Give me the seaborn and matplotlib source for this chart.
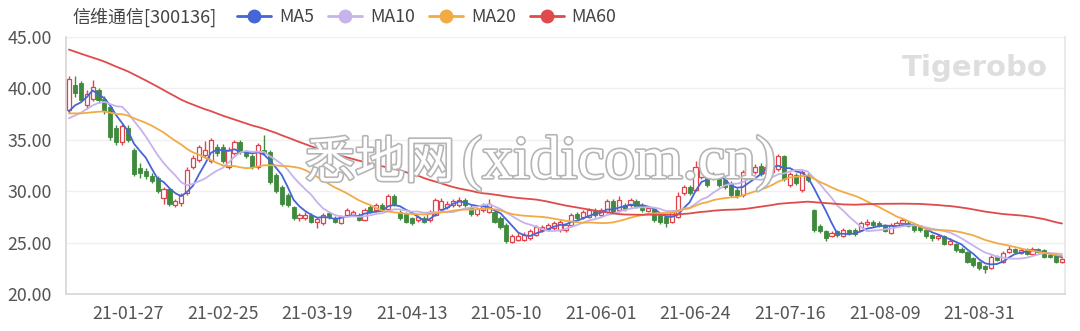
import numpy as np
import pandas as pd
import matplotlib
matplotlib.use("Agg")
import matplotlib.pyplot as plt
import matplotlib.patheffects as pe
from matplotlib.lines import Line2D
import seaborn as sns

# ---------------- data ----------------
title = "信维通信[300136]"
ma_names = ["MA5", "MA10", "MA20", "MA60"]
ma_windows = [5, 10, 20, 60]

# closes of the 59 sessions before the visible window (needed for the moving averages)
warmup_close = [51.5, 51.0, 50.8, 51.2, 50.5, 49.8, 50.2, 49.6, 50.0, 49.4, 49.0, 49.5, 48.8, 49.2, 48.6,
                48.9, 48.2, 47.8, 48.4, 47.5, 47.0, 47.6, 46.8, 46.2, 46.9, 46.0, 45.6, 46.3, 45.2, 44.8,
                44.1, 43.5, 43.9, 42.8, 42.2, 42.6, 41.5, 40.8, 41.2, 40.3,
                39.6, 39.0, 38.4, 38.8, 37.9, 37.4, 37.8, 37.2, 36.8, 37.6,
                36.9, 36.2, 36.0, 36.5, 36.4, 36.8, 37.4, 37.0, 36.8]

open_ = [37.9, 40.3, 40.5, 38.4, 39.0, 39.8, 39.0, 38.2, 36.1, 34.8,
         36.1, 34.0, 32.3, 32.0, 31.5, 31.3, 29.3, 30.2, 28.7, 28.9,
         29.8, 32.4, 33.0, 33.5, 32.9, 34.3, 34.3, 32.4, 33.7, 34.8,
         33.8, 33.4, 32.4, 34.0, 33.8, 31.6, 30.4, 29.6, 28.5, 27.4,
         27.4, 27.7, 27.0, 26.9, 27.9, 27.4, 26.9, 27.7, 27.7, 27.7,
         27.2, 28.5, 28.2, 28.7, 28.3, 29.5, 28.0, 27.8, 27.4, 27.2,
         27.4, 27.2, 27.7, 28.3, 28.5, 28.7, 28.7, 29.1, 28.5, 27.8,
         28.2, 28.0, 28.0, 27.4, 26.7, 25.1, 25.3, 25.3, 25.4, 25.7,
         26.2, 26.3, 26.4, 26.2, 26.2, 26.7, 27.8, 27.5, 27.5, 28.2,
         27.7, 28.0, 29.0, 28.2, 28.7, 28.7, 29.0, 28.7, 28.1, 28.3,
         27.7, 27.5, 27.0, 27.5, 29.8, 30.4, 30.1, 31.4, 31.9, 31.3,
         31.4, 31.1, 30.8, 30.1, 29.6, 31.6, 31.9, 32.5, 31.8, 31.9,
         32.2, 33.4, 30.6, 31.6, 30.1, 31.6, 28.2, 26.6, 26.1, 25.6,
         26.1, 25.6, 26.2, 26.2, 26.2, 26.8, 27.0, 26.9, 26.7, 25.9,
         26.6, 26.9, 26.9, 26.7, 26.5, 26.2, 25.7, 25.4, 25.6, 24.9,
         24.9, 24.4, 24.1, 23.5, 23.1, 22.7, 22.5, 23.6, 23.1, 24.1,
         24.4, 24.0, 24.4, 23.9, 24.4, 24.3, 23.8, 23.8, 23.1]

close = [40.9, 39.6, 38.9, 39.5, 40.1, 38.9, 37.8, 35.3, 34.8, 36.3,
         35.0, 31.7, 31.8, 31.5, 31.0, 30.0, 30.2, 28.8, 29.0, 29.6,
         32.1, 33.2, 34.3, 34.0, 35.0, 33.7, 32.9, 34.0, 34.8, 33.8,
         33.4, 32.4, 34.5, 33.7, 30.9, 30.0, 28.8, 28.7, 27.4, 27.7,
         27.7, 27.0, 27.3, 27.7, 27.5, 27.0, 27.5, 28.2, 28.0, 27.2,
         28.2, 28.0, 28.7, 28.3, 29.5, 28.8, 27.4, 27.0, 26.9, 27.5,
         27.0, 28.0, 29.1, 29.0, 28.8, 29.0, 29.1, 28.7, 27.8, 28.3,
         28.7, 28.8, 27.0, 26.5, 25.2, 25.6, 25.6, 25.7, 26.1, 26.5,
         26.5, 26.7, 26.9, 27.0, 26.7, 27.7, 27.4, 28.0, 28.2, 27.7,
         28.2, 29.0, 28.0, 29.1, 28.3, 29.1, 28.5, 28.2, 28.4, 27.2,
         27.0, 26.9, 28.0, 29.5, 30.4, 29.8, 32.4, 32.4, 30.6, 31.6,
         30.6, 30.4, 29.6, 29.5, 31.9, 32.7, 32.4, 31.7, 32.4, 32.5,
         33.4, 31.2, 31.7, 30.8, 31.9, 31.1, 26.2, 26.1, 25.4, 25.9,
         25.7, 26.2, 25.9, 25.8, 26.9, 27.0, 26.7, 26.6, 26.1, 26.7,
         26.9, 27.2, 26.6, 26.2, 26.2, 25.6, 25.4, 25.6, 24.9, 25.2,
         24.3, 24.1, 23.1, 22.8, 22.5, 22.4, 23.6, 23.3, 24.0, 24.4,
         24.1, 24.3, 23.9, 24.4, 24.1, 23.6, 23.6, 23.1, 23.4]

high = [41.2, 41.2, 40.7, 39.8, 40.8, 40.0, 39.3, 38.4, 36.4, 36.5,
        36.4, 34.2, 32.7, 32.3, 31.8, 31.5, 30.4, 30.3, 29.2, 29.8,
        32.4, 33.5, 34.5, 34.9, 35.2, 34.6, 34.6, 34.3, 35.0, 35.0,
        34.0, 33.6, 34.7, 35.5, 34.0, 31.8, 30.6, 29.8, 28.6, 27.9,
        28.0, 27.9, 27.5, 27.9, 28.0, 27.6, 27.7, 28.4, 28.2, 27.9,
        28.4, 28.7, 28.9, 28.9, 29.7, 29.7, 28.2, 28.0, 27.5, 27.7,
        27.6, 28.2, 29.3, 29.3, 29.0, 29.2, 29.4, 29.3, 28.7, 28.5,
        28.9, 29.2, 28.2, 27.6, 26.9, 25.8, 25.9, 26.0, 26.3, 26.7,
        26.7, 26.9, 27.1, 27.2, 26.9, 27.9, 28.0, 28.2, 28.4, 28.4,
        28.4, 29.2, 29.2, 29.5, 28.9, 29.3, 29.2, 28.9, 28.6, 28.5,
        27.8, 27.6, 28.2, 29.9, 30.6, 30.6, 32.9, 32.6, 32.1, 31.9,
        31.6, 31.3, 31.0, 30.3, 32.1, 32.9, 32.6, 32.7, 32.6, 32.8,
        33.6, 33.5, 31.9, 31.8, 32.1, 31.8, 28.3, 26.8, 26.2, 26.1,
        26.2, 26.4, 26.3, 26.4, 27.1, 27.3, 27.2, 27.1, 26.8, 26.9,
        27.1, 27.4, 27.1, 26.8, 26.6, 26.3, 25.8, 25.8, 25.7, 25.4,
        25.0, 24.6, 24.2, 23.6, 23.2, 22.8, 23.8, 23.8, 24.2, 24.7,
        24.5, 24.5, 24.5, 24.6, 24.5, 24.4, 23.9, 23.9, 23.5]

low = [37.6, 39.2, 38.7, 38.0, 38.8, 38.6, 37.5, 35.0, 34.5, 34.5,
       34.8, 31.5, 31.3, 31.2, 30.8, 29.8, 28.8, 28.6, 28.5, 28.6,
       29.6, 32.2, 32.8, 33.2, 32.7, 33.4, 32.7, 32.2, 33.5, 33.6,
       33.2, 32.2, 32.2, 33.5, 30.7, 29.8, 28.6, 28.5, 27.2, 27.1,
       27.2, 26.9, 26.4, 26.7, 27.3, 26.9, 26.8, 27.5, 27.6, 27.1,
       27.1, 27.9, 28.0, 28.2, 28.1, 28.6, 27.2, 26.9, 26.7, 27.0,
       26.9, 27.0, 27.6, 28.2, 28.3, 28.5, 28.5, 28.5, 27.6, 27.6,
       28.0, 27.9, 26.9, 26.3, 25.0, 25.0, 25.2, 25.2, 25.3, 25.6,
       26.0, 26.1, 26.2, 26.0, 26.0, 26.5, 27.2, 27.3, 27.4, 27.5,
       27.5, 27.9, 27.9, 28.0, 28.1, 28.5, 28.4, 28.0, 28.0, 27.0,
       26.8, 26.5, 26.9, 27.4, 29.6, 29.6, 30.0, 31.2, 30.4, 31.1,
       30.4, 30.2, 29.4, 29.3, 29.4, 31.4, 31.7, 31.5, 31.6, 31.7,
       32.0, 31.0, 30.4, 30.6, 29.9, 30.9, 26.0, 25.9, 25.2, 25.5,
       25.5, 25.5, 25.7, 25.6, 26.1, 26.6, 26.5, 26.5, 26.0, 25.8,
       26.5, 26.8, 26.5, 26.0, 26.0, 25.4, 25.2, 25.3, 24.8, 24.8,
       24.1, 24.0, 23.0, 22.6, 22.3, 22.0, 22.4, 23.2, 23.0, 24.0,
       24.0, 23.9, 23.8, 23.8, 24.0, 23.5, 23.5, 23.0, 23.0]

# trading calendar (Shenzhen), closed days in the window
holidays = ["2021-02-11", "2021-02-12", "2021-02-15", "2021-02-16", "2021-02-17",
            "2021-04-05", "2021-05-03", "2021-05-04", "2021-05-05", "2021-06-14",
            "2021-09-20", "2021-09-21"]
start_date, end_date = "2021-01-13", "2021-09-22"
first_label_idx, label_step = 10, 16

yticks = [20, 25, 30, 35, 40, 45]

# ---------------- build ----------------
dates = pd.bdate_range(start_date, end_date)
dates = dates[~dates.isin(pd.to_datetime(holidays))]
n = len(close)
dates = dates[:n]
idx = np.arange(n)

full_close = pd.Series(warmup_close + close)
mas = {name: full_close.rolling(w).mean().to_numpy()[-n:] for name, w in zip(ma_names, ma_windows)}

df = pd.DataFrame({"i": idx, "open": open_, "close": close, "high": high, "low": low})
for k, v in mas.items():
    df[k] = v

sns.set_theme(style="white")
plt.rcParams["font.family"] = ["Noto Sans CJK SC", "DejaVu Sans"]

RED = "#e0434b"
GREEN = "#3f8a3c"
ma_colors = {"MA5": "#4665d6", "MA10": "#c6b3ec", "MA20": "#f2aa45", "MA60": "#df4b4b"}

fig = plt.figure(figsize=(10.8, 3.31), dpi=100)
ax = fig.add_axes([66 / 1080, 1 - 294 / 331, (1065 - 66) / 1080, (294 - 37) / 331])

up = df["close"] >= df["open"]
# wicks
ax.vlines(df.loc[up, "i"], df.loc[up, "low"], df.loc[up, "high"], color=RED, lw=1.0, zorder=2)
ax.vlines(df.loc[~up, "i"], df.loc[~up, "low"], df.loc[~up, "high"], color=GREEN, lw=1.0, zorder=2)
# bodies
bw = 0.7
ax.bar(df.loc[up, "i"], (df.loc[up, "close"] - df.loc[up, "open"]).clip(lower=0.08),
       bottom=df.loc[up, "open"], width=bw, facecolor="white", edgecolor=RED, linewidth=0.9, zorder=3)
ax.bar(df.loc[~up, "i"], (df.loc[~up, "open"] - df.loc[~up, "close"]).clip(lower=0.08),
       bottom=df.loc[~up, "close"], width=bw, facecolor=GREEN, edgecolor=GREEN, linewidth=0.6, zorder=3)

for name in ma_names:
    sns.lineplot(data=df, x="i", y=name, ax=ax, color=ma_colors[name], lw=1.3, zorder=4, legend=False)

ax.set_xlim(-0.5, n - 0.5)
ax.set_ylim(yticks[0], yticks[-1])
ax.set_yticks(yticks)
ax.set_yticklabels([f"{v:.2f}" for v in yticks])
tick_pos = list(range(first_label_idx, n, label_step))
ax.set_xticks(tick_pos)
ax.set_xticklabels([dates[p].strftime("%y-%m-%d") for p in tick_pos])
ax.set_xlabel("")
ax.set_ylabel("")
ax.tick_params(axis="both", length=0, labelsize=12.8, labelcolor="#555555")
ax.tick_params(axis="y", pad=10)
ax.tick_params(axis="x", pad=8)
ax.grid(axis="y", color="#efefef", lw=0.9)
ax.grid(axis="x", visible=False)
for s in ["left", "bottom"]:
    ax.spines[s].set_color("#d6d6d6")
    ax.spines[s].set_linewidth(1.2)
ax.spines["right"].set_color("#e6e6e6")
ax.spines["top"].set_visible(False)

# header / legend
fig.text(72 / 1080, 1 - 17 / 331, title, fontsize=13, color="#444444", ha="left", va="center")
handles = [Line2D([0], [0], color=ma_colors[m], lw=2, marker="o", markersize=9) for m in ma_names]
fig.legend(handles, ma_names, loc="center left", bbox_to_anchor=(230 / 1080, 1 - 17 / 331),
           ncol=4, frameon=False, fontsize=12.8, handlelength=1.9, handletextpad=0.45,
           columnspacing=0.8, borderaxespad=0, labelcolor="#444444")

# watermarks
fig.text(975 / 1080, 1 - 68 / 331, "Tigerobo", fontsize=21, fontweight="bold", color="#dedede",
         ha="center", va="center", family=["DejaVu Sans"])
stroke = [pe.withStroke(linewidth=2.4, foreground="#b5b5b5")]
fig.text(455 / 1080, 1 - 178 / 331, "悉地网", fontsize=36, color="white",
         ha="right", va="baseline", family=["Noto Sans CJK SC"], zorder=10, path_effects=stroke)
fig.text(462 / 1080, 1 - 178 / 331, "(xidicom.cn)", fontsize=44, color="white",
         ha="left", va="baseline", family=["Liberation Serif", "DejaVu Serif"], zorder=10,
         path_effects=stroke)

fig.savefig("out.png", dpi=100, facecolor="white")
